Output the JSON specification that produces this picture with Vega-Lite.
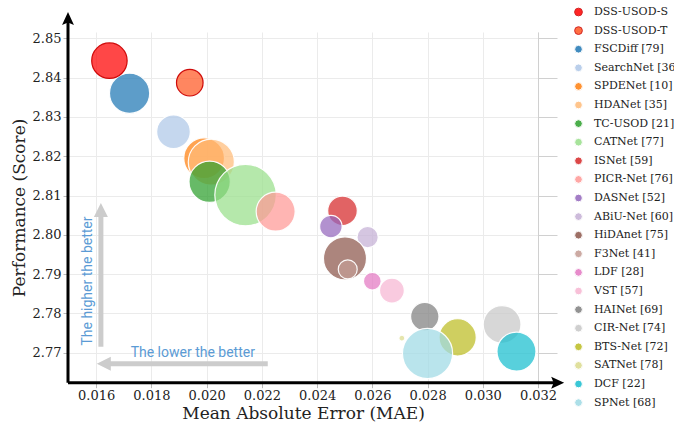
{
  "$schema": "https://vega.github.io/schema/vega-lite/v6.json",
  "width": 470,
  "height": 350.7,
  "autosize": {"type": "none"},
  "padding": {"left": 68, "top": 32, "right": 136, "bottom": 41.3},
  "config": {
    "view": {"stroke": null},
    "font": "DejaVu Serif",
    "legend": {
      "orient": "none",
      "legendX": 505,
      "legendY": -25.5,
      "padding": 0,
      "labelFont": "DejaVu Serif",
      "labelFontSize": 11,
      "labelColor": "#222222",
      "symbolSize": 60,
      "symbolType": "circle",
      "rowPadding": 5.6,
      "labelOffset": 10,
      "symbolOpacity": 0.85,
      "symbolStrokeWidth": 1
    }
  },
  "resolve": {"axis": {"x": "independent", "y": "independent"}},
  "datasets": {
    "methods": [
      {"method": "FSCDiff [79]", "mae": 0.01721, "score": 2.836, "flops": 515},
      {"method": "SearchNet [36]", "mae": 0.0188, "score": 2.8262, "flops": 361},
      {"method": "SPDENet [10]", "mae": 0.01991, "score": 2.8195, "flops": 529},
      {"method": "HDANet [35]", "mae": 0.02017, "score": 2.8185, "flops": 676},
      {"method": "TC-USOD [21]", "mae": 0.02011, "score": 2.8135, "flops": 543},
      {"method": "CATNet [77]", "mae": 0.02141, "score": 2.8101, "flops": 1204},
      {"method": "ISNet [59]", "mae": 0.02492, "score": 2.8061, "flops": 279},
      {"method": "PICR-Net [76]", "mae": 0.0225, "score": 2.8059, "flops": 484},
      {"method": "DASNet [52]", "mae": 0.0245, "score": 2.8021, "flops": 161},
      {"method": "ABiU-Net [60]", "mae": 0.02583, "score": 2.7994, "flops": 144},
      {"method": "HiDAnet [75]", "mae": 0.02501, "score": 2.794, "flops": 590},
      {"method": "F3Net [41]", "mae": 0.02511, "score": 2.7912, "flops": 114},
      {"method": "LDF [28]", "mae": 0.026, "score": 2.7882, "flops": 100},
      {"method": "VST [57]", "mae": 0.02671, "score": 2.7858, "flops": 196},
      {"method": "HAINet [69]", "mae": 0.0279, "score": 2.7792, "flops": 256},
      {"method": "CIR-Net [74]", "mae": 0.0307, "score": 2.7772, "flops": 454},
      {"method": "BTS-Net [72]", "mae": 0.02909, "score": 2.7739, "flops": 441},
      {"method": "SATNet [78]", "mae": 0.02707, "score": 2.7737, "flops": 11},
      {"method": "DCF [22]", "mae": 0.03122, "score": 2.7703, "flops": 484},
      {"method": "SPNet [68]", "mae": 0.028, "score": 2.7698, "flops": 801},
      {"method": "DSS-USOD-T", "mae": 0.01939, "score": 2.8387, "flops": 225},
      {"method": "DSS-USOD-S", "mae": 0.01648, "score": 2.8443, "flops": 400}
    ]
  },
  "layer": [
    {
      "data": {"name": "methods"},
      "mark": {"type": "point", "filled": true, "fillOpacity": 0.72, "strokeOpacity": 0.95, "strokeWidth": 1.2},
      "encoding": {
        "x": {
          "field": "mae", "type": "quantitative",
          "scale": {"domain": [0.01498, 0.032], "nice": false, "zero": false},
          "axis": {
            "values": [0.016, 0.018, 0.02, 0.022, 0.024, 0.026, 0.028, 0.03, 0.032],
            "format": ".3f", "domain": false, "grid": true, "gridColor": "#ebebeb",
            "labelOverlap": false, "labelBound": false, "labelFlush": false,
            "ticks": true, "tickColor": "#bbbbbb", "tickSize": 5,
            "labelFont": "DejaVu Serif", "labelFontSize": 13, "labelColor": "#222222", "labelPadding": 2,
            "title": "Mean Absolute Error (MAE)", "titleFont": "DejaVu Serif", "titleFontSize": 17,
            "titleFontWeight": "normal", "titleColor": "#222222", "titlePadding": 3
          }
        },
        "y": {
          "field": "score", "type": "quantitative",
          "scale": {"domain": [2.76237, 2.8516], "nice": false, "zero": false},
          "axis": {
            "values": [2.77, 2.78, 2.79, 2.8, 2.81, 2.82, 2.83, 2.84, 2.85],
            "format": ".2f", "domain": false, "grid": true, "gridColor": "#ebebeb",
            "labelOverlap": false,
            "ticks": true, "tickColor": "#bbbbbb", "tickSize": 5,
            "labelFont": "DejaVu Serif", "labelFontSize": 13, "labelColor": "#222222", "labelPadding": 2,
            "title": "Performance (Score)", "titleFont": "DejaVu Serif", "titleFontSize": 17,
            "titleFontWeight": "normal", "titleColor": "#222222", "titlePadding": 4
          }
        },
        "color": {
          "field": "method", "type": "nominal",
          "scale": {
            "domain": ["DSS-USOD-S", "DSS-USOD-T", "FSCDiff [79]", "SearchNet [36]", "SPDENet [10]", "HDANet [35]", "TC-USOD [21]", "CATNet [77]", "ISNet [59]", "PICR-Net [76]", "DASNet [52]", "ABiU-Net [60]", "HiDAnet [75]", "F3Net [41]", "LDF [28]", "VST [57]", "HAINet [69]", "CIR-Net [74]", "BTS-Net [72]", "SATNet [78]", "DCF [22]", "SPNet [68]"],
            "range": ["#ff0000", "#ff5722", "#1f77b4", "#aec7e8", "#ff7f0e", "#ffbb78", "#2ca02c", "#98df8a", "#d62728", "#ff9896", "#9467bd", "#c5b0d5", "#8c564b", "#c49c94", "#e377c2", "#f7b6d2", "#7f7f7f", "#c7c7c7", "#bcbd22", "#dbdb8d", "#17becf", "#9edae5"]
          },
          "legend": {"title": null, "labelFont": "DejaVu Serif", "labelFontSize": 11}
        },
        "stroke": {
          "field": "method", "type": "nominal",
          "scale": {
            "domain": ["DSS-USOD-S", "DSS-USOD-T", "FSCDiff [79]", "SearchNet [36]", "SPDENet [10]", "HDANet [35]", "TC-USOD [21]", "CATNet [77]", "ISNet [59]", "PICR-Net [76]", "DASNet [52]", "ABiU-Net [60]", "HiDAnet [75]", "F3Net [41]", "LDF [28]", "VST [57]", "HAINet [69]", "CIR-Net [74]", "BTS-Net [72]", "SATNet [78]", "DCF [22]", "SPNet [68]"],
            "range": ["#cc0000", "#cc0000", "white", "white", "white", "white", "white", "white", "white", "white", "white", "white", "white", "white", "white", "white", "white", "white", "white", "white", "white", "white"]
          },
          "legend": {"title": null, "labelFont": "DejaVu Serif", "labelFontSize": 11}
        },
        "size": {
          "field": "flops", "type": "quantitative",
          "scale": {"domain": [0, 1000], "range": [0, 3141.6], "zero": true},
          "legend": null
        }
      }
    },
    {
      "data": {"values": [{"mae": 0.032, "score": 2.8}]},
      "mark": {"type": "point", "opacity": 0},
      "encoding": {
        "x": {"field": "mae", "type": "quantitative", "scale": {"domain": [0.01498, 0.032], "nice": false, "zero": false}, "axis": null},
        "y": {
          "field": "score", "type": "quantitative",
          "scale": {"domain": [2.76237, 2.8516], "nice": false, "zero": false},
          "axis": {
            "orient": "right", "values": [2.77, 2.78, 2.79, 2.8, 2.81, 2.82, 2.83, 2.84, 2.85],
            "labels": false, "grid": false, "title": null,
            "domain": true, "domainColor": "#d0d0d0", "domainWidth": 1,
            "ticks": true, "tickColor": "#d0d0d0", "tickSize": 19, "tickWidth": 1
          }
        }
      }
    },
    {
      "data": {"values": [{"mae": 0.01498, "score": 2.76237, "score2": 2.8545}]},
      "mark": {"type": "rule", "color": "black", "strokeWidth": 3},
      "encoding": {
        "x": {"field": "mae", "type": "quantitative", "scale": {"domain": [0.01498, 0.032], "nice": false, "zero": false}, "axis": null},
        "y": {"field": "score", "type": "quantitative", "scale": {"domain": [2.76237, 2.8516], "nice": false, "zero": false}, "axis": null},
        "y2": {"field": "score2"}
      }
    },
    {
      "data": {"values": [{"mae": 0.01498, "mae2": 0.03262, "score": 2.76237}]},
      "mark": {"type": "rule", "color": "black", "strokeWidth": 3},
      "encoding": {
        "x": {"field": "mae", "type": "quantitative", "scale": {"domain": [0.01498, 0.032], "nice": false, "zero": false}, "axis": null},
        "x2": {"field": "mae2"},
        "y": {"field": "score", "type": "quantitative", "scale": {"domain": [2.76237, 2.8516], "nice": false, "zero": false}, "axis": null}
      }
    },
    {
      "data": {"values": [{"mae": 0.01498, "score": 2.85491}]},
      "mark": {"type": "point", "filled": true, "color": "black", "opacity": 1, "size": 196, "shape": "M0,-1L0.85,0.85L0,0.5L-0.85,0.85Z"},
      "encoding": {
        "x": {"field": "mae", "type": "quantitative", "scale": {"domain": [0.01498, 0.032], "nice": false, "zero": false}, "axis": null},
        "y": {"field": "score", "type": "quantitative", "scale": {"domain": [2.76237, 2.8516], "nice": false, "zero": false}, "axis": null}
      }
    },
    {
      "data": {"values": [{"mae": 0.032693, "score": 2.76237}]},
      "mark": {"type": "point", "filled": true, "color": "black", "opacity": 1, "size": 196, "shape": "M1,0L-0.85,0.85L-0.5,0L-0.85,-0.85Z"},
      "encoding": {
        "x": {"field": "mae", "type": "quantitative", "scale": {"domain": [0.01498, 0.032], "nice": false, "zero": false}, "axis": null},
        "y": {"field": "score", "type": "quantitative", "scale": {"domain": [2.76237, 2.8516], "nice": false, "zero": false}, "axis": null}
      }
    },
    {
      "data": {"values": [{"mae": 0.016171, "score": 2.77152, "score2": 2.8063}]},
      "mark": {"type": "rule", "color": "#cccccc", "strokeWidth": 5},
      "encoding": {
        "x": {"field": "mae", "type": "quantitative", "scale": {"domain": [0.01498, 0.032], "nice": false, "zero": false}, "axis": null},
        "y": {"field": "score", "type": "quantitative", "scale": {"domain": [2.76237, 2.8516], "nice": false, "zero": false}, "axis": null},
        "y2": {"field": "score2"}
      }
    },
    {
      "data": {"values": [{"mae": 0.016276, "mae2": 0.022214, "score": 2.7672}]},
      "mark": {"type": "rule", "color": "#cccccc", "strokeWidth": 5},
      "encoding": {
        "x": {"field": "mae", "type": "quantitative", "scale": {"domain": [0.01498, 0.032], "nice": false, "zero": false}, "axis": null},
        "x2": {"field": "mae2"},
        "y": {"field": "score", "type": "quantitative", "scale": {"domain": [2.76237, 2.8516], "nice": false, "zero": false}, "axis": null}
      }
    },
    {
      "data": {"values": [{"mae": 0.016171, "score": 2.80631}]},
      "mark": {"type": "point", "filled": true, "color": "#cccccc", "opacity": 1, "size": 196, "shape": "M0,-1L1,1L-1,1Z"},
      "encoding": {
        "x": {"field": "mae", "type": "quantitative", "scale": {"domain": [0.01498, 0.032], "nice": false, "zero": false}, "axis": null},
        "y": {"field": "score", "type": "quantitative", "scale": {"domain": [2.76237, 2.8516], "nice": false, "zero": false}, "axis": null}
      }
    },
    {
      "data": {"values": [{"mae": 0.016276, "score": 2.7672}]},
      "mark": {"type": "point", "filled": true, "color": "#cccccc", "opacity": 1, "size": 196, "shape": "M-1,0L1,-1L1,1Z"},
      "encoding": {
        "x": {"field": "mae", "type": "quantitative", "scale": {"domain": [0.01498, 0.032], "nice": false, "zero": false}, "axis": null},
        "y": {"field": "score", "type": "quantitative", "scale": {"domain": [2.76237, 2.8516], "nice": false, "zero": false}, "axis": null}
      }
    },
    {
      "data": {"values": [{"mae": 0.019499, "score": 2.76898, "label": "The lower the better"}]},
      "mark": {"type": "text", "font": "Roboto", "fontSize": 14, "color": "#5b9bd5", "align": "center", "baseline": "alphabetic"},
      "encoding": {
        "x": {"field": "mae", "type": "quantitative", "scale": {"domain": [0.01498, 0.032], "nice": false, "zero": false}, "axis": null},
        "y": {"field": "score", "type": "quantitative", "scale": {"domain": [2.76237, 2.8516], "nice": false, "zero": false}, "axis": null},
        "text": {"field": "label"}
      }
    },
    {
      "data": {"values": [{"mae": 0.01584, "score": 2.78824, "label": "The higher the better"}]},
      "mark": {"type": "text", "font": "Roboto", "fontSize": 14, "color": "#5b9bd5", "align": "center", "baseline": "alphabetic", "angle": 270},
      "encoding": {
        "x": {"field": "mae", "type": "quantitative", "scale": {"domain": [0.01498, 0.032], "nice": false, "zero": false}, "axis": null},
        "y": {"field": "score", "type": "quantitative", "scale": {"domain": [2.76237, 2.8516], "nice": false, "zero": false}, "axis": null},
        "text": {"field": "label"}
      }
    }
  ]
}
